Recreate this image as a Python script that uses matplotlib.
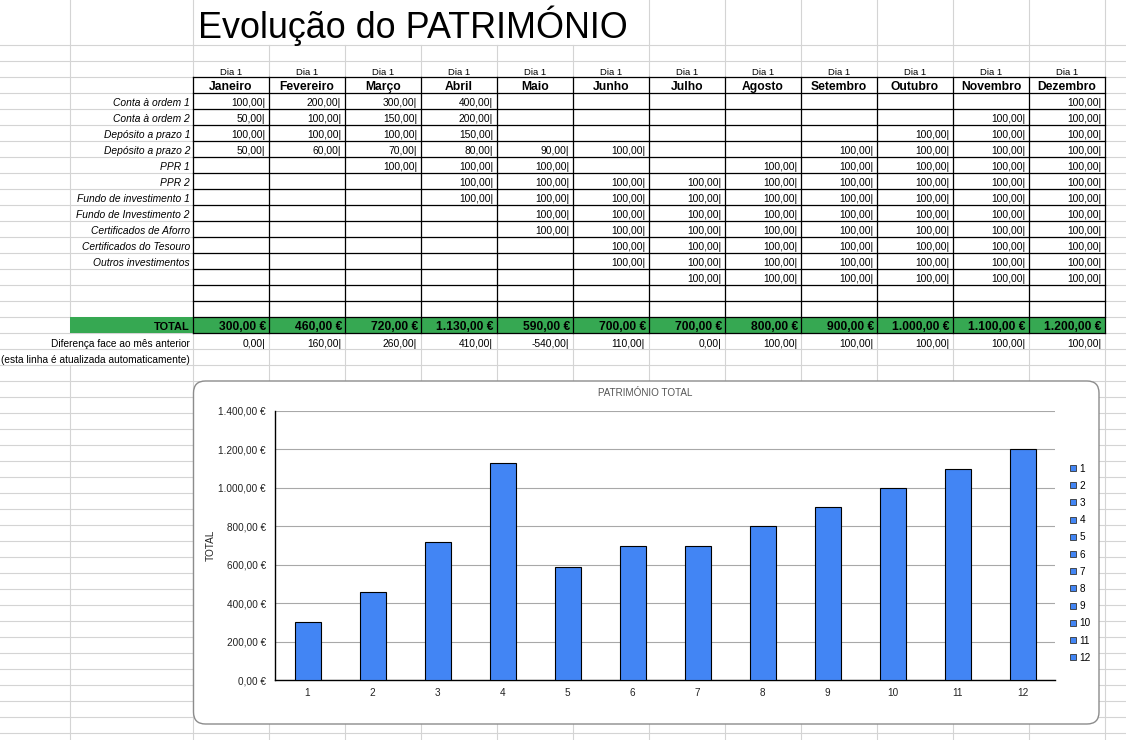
import matplotlib as mpl
mpl.use('Agg')
import matplotlib.pyplot as plt
from matplotlib.patches import FancyBboxPatch, Rectangle, Patch
from matplotlib.ticker import FuncFormatter, MultipleLocator

plt.rcParams['font.family'] = ['Liberation Sans', 'DejaVu Sans']

# dados da folha
meses = ['Janeiro', 'Fevereiro', 'Março', 'Abril', 'Maio', 'Junho', 'Julho',
         'Agosto', 'Setembro', 'Outubro', 'Novembro', 'Dezembro']
rubricas = ['Conta à ordem 1', 'Conta à ordem 2', 'Depósito a prazo 1',
            'Depósito a prazo 2', 'PPR 1', 'PPR 2', 'Fundo de investimento 1',
            'Fundo de Investimento 2', 'Certificados de Aforro',
            'Certificados do Tesouro', 'Outros investimentos', '', '', '']
N = None
valores = [
    [100, 200, 300, 400, N, N, N, N, N, N, N, 100],
    [50, 100, 150, 200, N, N, N, N, N, N, 100, 100],
    [100, 100, 100, 150, N, N, N, N, N, 100, 100, 100],
    [50, 60, 70, 80, 90, 100, N, N, 100, 100, 100, 100],
    [N, N, 100, 100, 100, N, N, 100, 100, 100, 100, 100],
    [N, N, N, 100, 100, 100, 100, 100, 100, 100, 100, 100],
    [N, N, N, 100, 100, 100, 100, 100, 100, 100, 100, 100],
    [N, N, N, N, 100, 100, 100, 100, 100, 100, 100, 100],
    [N, N, N, N, 100, 100, 100, 100, 100, 100, 100, 100],
    [N, N, N, N, N, 100, 100, 100, 100, 100, 100, 100],
    [N, N, N, N, N, 100, 100, 100, 100, 100, 100, 100],
    [N, N, N, N, N, N, 100, 100, 100, 100, 100, 100],
    [N] * 12,
    [N] * 12,
]
totais = [300, 460, 720, 1130, 590, 700, 700, 800, 900, 1000, 1100, 1200]
diferencas = [0, 160, 260, 410, -540, 110, 0, 100, 100, 100, 100, 100]
categorias = list(range(1, 13))


def pt(v):
    s = f"{v:,.2f}"
    return s.replace(',', '#').replace('.', ',').replace('#', '.')


fig = plt.figure(figsize=(11.26, 7.40), dpi=100)
bg = fig.add_axes([0, 0, 1, 1])
bg.set_xlim(0, 1126)
bg.set_ylim(740, 0)
bg.axis('off')

# grelha da folha de cálculo
cinza = '#d4d4d4'
col_x = [70, 193] + [193 + 76 * i for i in range(1, 13)]
linhas_y = list(range(45, 740, 16))
for y in linhas_y:
    bg.plot([0, 1126], [y, y], color=cinza, lw=0.8, zorder=1)
for x in col_x:
    segs = [(0, 740)]
    if 193 < x < 649:
        segs = [(45, 740)]
    if x == 70:
        segs = [(0, 333), (365, 740)]
    for a, b in segs:
        bg.plot([x, x], [a, b], color=cinza, lw=0.8, zorder=1)

# título
bg.text(198, 37.5, 'Evolução do PATRIMÓNIO', fontsize=25.8, va='baseline',
        ha='left', zorder=5)

# cabeçalhos
for i, m in enumerate(meses):
    cx = 193 + 76 * i + 38
    bg.text(cx, 75.3, 'Dia 1', fontsize=6.8, ha='center', va='baseline', zorder=5)
    bg.text(cx, 90, m, fontsize=8.7, fontweight='bold', ha='center',
            va='baseline', zorder=5)

# linha TOTAL verde
bg.add_patch(Rectangle((70, 317), 1035, 16, facecolor='#36a852',
                       edgecolor='none', zorder=2))

# linhas pretas da tabela
for k in range(17):
    y = 77 + 16 * k
    bg.plot([193, 1105], [y, y], color='black', lw=0.9, zorder=3)
for x in col_x[1:]:
    bg.plot([x, x], [77, 333], color='black', lw=0.9, zorder=3)

# valores
for r, nome in enumerate(rubricas):
    top = 93 + 16 * r
    if nome:
        bg.text(190, top + 13.3, nome, fontsize=7.4, style='italic',
                ha='right', va='baseline', zorder=5)
    for i, v in enumerate(valores[r]):
        if v is not None:
            bg.text(193 + 76 * (i + 1) - 4, top + 13.5, pt(v) + '|',
                    fontsize=7.4, ha='right', va='baseline', zorder=5)

bg.text(190, 330, 'TOTAL', fontsize=7.9, fontweight='bold', ha='right',
        va='baseline', zorder=5)
for i, v in enumerate(totais):
    bg.text(193 + 76 * (i + 1) - 3, 330, pt(v) + ' €', fontsize=8.7,
            fontweight='bold', ha='right', va='baseline', zorder=5)

bg.text(190, 346.7, 'Diferença face ao mês anterior', fontsize=7.3,
        ha='right', va='baseline', zorder=5)
bg.text(190, 362.7, '(esta linha é atualizada automaticamente)', fontsize=7.3,
        ha='right', va='baseline', zorder=5)
for i, v in enumerate(diferencas):
    bg.text(193 + 76 * (i + 1) - 4, 346.7, pt(v) + '|', fontsize=7.4,
            ha='right', va='baseline', zorder=5)

# caixa do gráfico
bg.add_patch(FancyBboxPatch((193.5, 381), 905.5, 343,
                            boxstyle='round,pad=0,rounding_size=12',
                            facecolor='white', edgecolor='#8c8c8c', lw=1.0,
                            zorder=6))
bg.text(645, 395.7, 'PATRIMÓNIO TOTAL', fontsize=7.1, color='#555555',
        ha='center', va='baseline', zorder=7)

# gráfico de barras
ax = fig.add_axes([275 / 1126, (740 - 680) / 740, 780 / 1126, 269 / 740])
ax.set_facecolor('none')
cor = '#4285f4'
ax.bar(categorias, totais, width=0.4, color=cor, edgecolor='black',
       linewidth=0.8, zorder=3)
ax.set_xlim(0.5, 12.5)
ax.set_ylim(0, 1400)
ax.yaxis.set_major_locator(MultipleLocator(200))
ax.yaxis.set_major_formatter(FuncFormatter(lambda v, p: pt(v) + ' €'))
ax.set_xticks(categorias)
ax.set_xticklabels([str(c) for c in categorias])
ax.tick_params(axis='both', length=0, labelsize=7.2, colors='#222222')
ax.tick_params(axis='y', pad=6.5)
ax.tick_params(axis='x', pad=5.5)
ax.yaxis.grid(True, color='#a8a8a8', linewidth=0.8, zorder=0)
ax.set_axisbelow(True)
for s in ['top', 'right']:
    ax.spines[s].set_visible(False)
for s in ['left', 'bottom']:
    ax.spines[s].set_color('black')
    ax.spines[s].set_linewidth(1.0)
ax.set_ylabel('TOTAL', fontsize=7.2, color='#222222')
ax.yaxis.set_label_coords((216 - 275) / 780, 0.5)

handles = [Patch(facecolor=cor, edgecolor='#333333', lw=0.6) for _ in categorias]
ax.legend(handles, [str(c) for c in categorias], loc='upper left',
          bbox_to_anchor=(1070 / 1126, 1 - 463.5 / 740),
          bbox_transform=fig.transFigure, frameon=False, fontsize=7.2,
          handlelength=0.55, handleheight=0.55, handletextpad=0.4,
          labelspacing=0.72, borderpad=0, borderaxespad=0)

fig.savefig('out.png', dpi=100)
plt.close(fig)
